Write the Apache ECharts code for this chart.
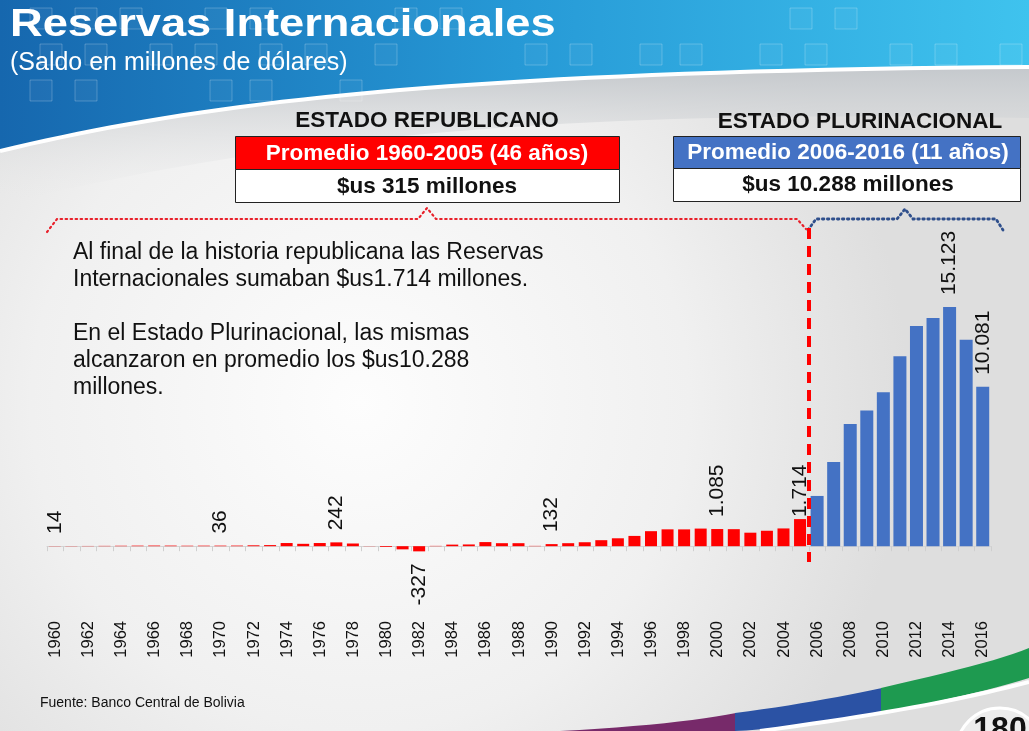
<!DOCTYPE html>
<html><head><meta charset="utf-8">
<script src="https://cdn.jsdelivr.net/npm/echarts@6/dist/echarts.min.js"></script>
<style>html,body{margin:0;padding:0;width:1029px;height:731px;overflow:hidden;background:#ececec}#c{width:1029px;height:731px}</style>
</head><body><div id="c"></div>
<script>
// ---- DATA ----
const years = ['1960','1961','1962','1963','1964','1965','1966','1967','1968','1969',
  '1970','1971','1972','1973','1974','1975','1976','1977','1978','1979',
  '1980','1981','1982','1983','1984','1985','1986','1987','1988','1989',
  '1990','1991','1992','1993','1994','1995','1996','1997','1998','1999',
  '2000','2001','2002','2003','2004','2005','2006','2007','2008','2009',
  '2010','2011','2012','2013','2014','2015','2016'];
// Estado Republicano 1960-2005
const republicano = [14,12,15,20,28,35,40,38,30,34,
  36,38,55,70,200,150,200,242,170,10,
  -50,-200,-327,20,100,110,260,190,190,20,
  132,190,250,380,500,650,950,1066,1063,1114,
  1085,1077,854,976,1123,1714];
// Estado Plurinacional 2006-2016
const plurinacional = [3178,5319,7722,8580,9730,12019,13927,14430,15123,13056,10081];
const labeledYears = ['1960','1970','1977','1982','1990','2000','2005','2014','2016'];

const RED = '#ff0000', BLUE = '#4472c4';
const FONT = "'Liberation Sans', Arial, sans-serif";
const fmt = v => String(v).replace(/\B(?=(\d{3})+(?!\d))/g, '.');

function item(year, v) {
  if (v === null) return null;
  const o = { value: v };
  if (labeledYears.includes(year)) {
    o.label = v < 0
      ? { show: true, position: 'bottom', align: 'right' }
      : { show: true, position: 'top', align: 'left' };
    if (year === '2005') o.label.distance = 2;
  }
  return o;
}
const repData = years.map((y, i) => i < republicano.length ? item(y, republicano[i]) : null);
const pluData = years.map((y, i) => i >= republicano.length ? item(y, plurinacional[i - republicano.length]) : null);

const barLabel = {
  show: false, rotate: 90, verticalAlign: 'middle', distance: 12,
  fontSize: 21, color: '#111', fontFamily: FONT,
  formatter: p => fmt(p.value)
};

// ---- DECORATION helpers ----
function bez(p0, p1, p2, p3, n) {
  const pts = [];
  for (let i = 0; i <= n; i++) {
    const t = i / n, u = 1 - t;
    pts.push([u*u*u*p0[0] + 3*u*u*t*p1[0] + 3*u*t*t*p2[0] + t*t*t*p3[0],
              u*u*u*p0[1] + 3*u*u*t*p1[1] + 3*u*t*t*p2[1] + t*t*t*p3[1]]);
  }
  return pts;
}
const edgeTop = bez([0,150],[200,102],[450,70],[1029,66], 40);
const edgeLow = bez([0,205],[300,130],[600,110],[1029,118], 40).reverse();

const squares = [];
[[8, [30,75,120,205,250,395,440,790,835,1070,1115,1240]], [44, [40,85,150,195,260,305,375,525,570,640,680,760,805,890,935,1000]], [80, [30,75,210,250,340]]]
  .forEach(([y, xs]) => xs.forEach(x => squares.push({ type: 'rect', z: -8, silent: true,
    shape: { x: x, y: y, width: 22, height: 21 },
    style: { fill: 'rgba(255,255,255,0.04)', stroke: 'rgba(255,255,255,0.22)', lineWidth: 1 } })));

const purple = [[560,731], ...bez([560,731],[640,727],[700,720],[736,713],12), [736,731]];
const blueBand = [...bez([735,713],[790,706],[840,697],[882,688],12), ...bez([882,712],[830,722],[780,729],[735,731],12)];
const greenBand = [...bez([881,688],[950,672],[1000,660],[1029,648],12), ...bez([1029,678],[990,690],[940,702],[881,712],12)];

const graphics = [
  { type: 'rect', z: -20, silent: true, shape: { x: 0, y: 0, width: 1029, height: 731 },
    style: { fill: { type: 'radial', x: 0.35, y: 0.55, r: 0.75,
      colorStops: [{ offset: 0, color: '#fdfdfd' }, { offset: 0.6, color: '#f0f0f0' }, { offset: 1, color: '#dedede' }] } } },
  { type: 'polygon', z: -12, silent: true, shape: { points: [...edgeTop, ...edgeLow] },
    style: { fill: { type: 'linear', x: 0, y: 0, x2: 0, y2: 1,
      colorStops: [{ offset: 0, color: '#c4c8cc' }, { offset: 1, color: 'rgba(235,235,235,0)' }] } } },
  { type: 'polygon', z: -10, silent: true, shape: { points: [[0,0],[1029,0], ...edgeTop.slice().reverse()] },
    style: { fill: { type: 'linear', x: 0, y: 0, x2: 1, y2: 0,
      colorStops: [{ offset: 0, color: '#1667ae' }, { offset: 0.5, color: '#2699d6' }, { offset: 1, color: '#3fc3ee' }] } } },
  ...squares,
  { type: 'polyline', z: -7, silent: true, shape: { points: edgeTop.map(p => [p[0], p[1] + 1]) },
    style: { fill: null, stroke: '#ffffff', lineWidth: 4 } },
  // bottom right swoosh
  { type: 'polygon', z: -6, silent: true, shape: { points: purple }, style: { fill: '#772a6a' } },
  { type: 'polygon', z: -6, silent: true, shape: { points: blueBand }, style: { fill: '#2b52a4' } },
  { type: 'polygon', z: -6, silent: true, shape: { points: greenBand }, style: { fill: '#1e9a50' } },
  { type: 'polyline', z: -6, silent: true, shape: { points: bez([760,731],[880,715],[960,700],[1029,682],20) }, style: { fill: null, stroke: '#ffffff', lineWidth: 4 } },
  { type: 'circle', z: -5, silent: true, shape: { cx: 1000, cy: 752, r: 44 }, style: { fill: '#ededed', stroke: '#ffffff', lineWidth: 3 } },
  { type: 'text', z: 5, silent: true, x: 1000, y: 714, style: { text: '180', fontSize: 32, fontWeight: 'bold', fill: '#111', fontFamily: FONT, align: 'center', verticalAlign: 'top' } },
  // titles
  { type: 'text', z: 5, x: 10, y: 6, scaleX: 1.16, style: { text: 'Reservas Internacionales', fontSize: 39, fontWeight: 'bold', fill: '#ffffff', fontFamily: FONT, verticalAlign: 'top' } },
  { type: 'text', z: 5, x: 10, y: 51, style: { text: '(Saldo en millones de dólares)', fontSize: 25, fill: '#ffffff', fontFamily: FONT, verticalAlign: 'top' } },
  // Boxes
  { type: 'text', z: 5, x: 427, y: 121, style: { text: 'ESTADO REPUBLICANO', fontSize: 22.5, fontWeight: 'bold', fill: '#111', fontFamily: FONT, align: 'center', verticalAlign: 'middle' } },
  { type: 'rect', z: 4, shape: { x: 235.5, y: 136.5, width: 384, height: 33 }, style: { fill: RED, stroke: '#222', lineWidth: 1 } },
  { type: 'rect', z: 4, shape: { x: 235.5, y: 169.5, width: 384, height: 33 }, style: { fill: '#ffffff', stroke: '#222', lineWidth: 1 } },
  { type: 'text', z: 5, x: 427, y: 154, style: { text: 'Promedio 1960-2005 (46 años)', fontSize: 22.5, fontWeight: 'bold', fill: '#ffffff', fontFamily: FONT, align: 'center', verticalAlign: 'middle' } },
  { type: 'text', z: 5, x: 427, y: 187, style: { text: '$us 315 millones', fontSize: 22.5, fontWeight: 'bold', fill: '#111', fontFamily: FONT, align: 'center', verticalAlign: 'middle' } },
  { type: 'text', z: 5, x: 860, y: 122, style: { text: 'ESTADO PLURINACIONAL', fontSize: 22.5, fontWeight: 'bold', fill: '#111', fontFamily: FONT, align: 'center', verticalAlign: 'middle' } },
  { type: 'rect', z: 4, shape: { x: 673.5, y: 136.5, width: 347, height: 32 }, style: { fill: BLUE, stroke: '#222', lineWidth: 1 } },
  { type: 'rect', z: 4, shape: { x: 673.5, y: 168.5, width: 347, height: 33 }, style: { fill: '#ffffff', stroke: '#222', lineWidth: 1 } },
  { type: 'text', z: 5, x: 848, y: 153, style: { text: 'Promedio 2006-2016 (11 años)', fontSize: 22.5, fontWeight: 'bold', fill: '#ffffff', fontFamily: FONT, align: 'center', verticalAlign: 'middle' } },
  { type: 'text', z: 5, x: 848, y: 185, style: { text: '$us 10.288 millones', fontSize: 22.5, fontWeight: 'bold', fill: '#111', fontFamily: FONT, align: 'center', verticalAlign: 'middle' } },
  // brackets
  { type: 'polyline', z: 4, shape: { points: [[47, 232], [57, 219], [418, 219], [427, 208], [436, 219], [797, 219], [806, 229]] },
    style: { fill: null, stroke: '#e8202a', lineWidth: 2.2, lineDash: [1.5, 3.5], lineCap: 'round' } },
  { type: 'polyline', z: 4, shape: { points: [[808, 230], [816, 219], [897, 219], [905, 209], [913, 219], [996, 219], [1003, 230]] },
    style: { fill: null, stroke: '#2f4f8c', lineWidth: 2.8, lineDash: [1.5, 3.5], lineCap: 'round' } },
  // paragraphs
  { type: 'text', z: 5, x: 73, y: 239, style: {
      text: 'Al final de la historia republicana las Reservas\nInternacionales sumaban $us1.714 millones.\n\nEn el Estado Plurinacional, las mismas\nalcanzaron en promedio los $us10.288\nmillones.',
      fontSize: 23, lineHeight: 27, fill: '#111', fontFamily: FONT, verticalAlign: 'top' } },
  { type: 'text', z: 5, x: 40, y: 696, style: { text: 'Fuente: Banco Central de Bolivia', fontSize: 14, fill: '#111', fontFamily: "'Liberation Sans Narrow', 'Liberation Sans', sans-serif", verticalAlign: 'top' } }
];

const chart = echarts.init(document.getElementById('c'), null, { renderer: 'canvas' });
chart.setOption({
  backgroundColor: '#ececec',
  animation: false,
  grid: { left: 47, right: 38, top: 230, height: 332 },
  xAxis: {
    type: 'category', data: years,
    axisLine: { onZero: true, lineStyle: { color: '#d4d4d4', width: 1 } },
    axisTick: { show: true, interval: 0, length: 5, lineStyle: { color: '#cfcfcf' } },
    axisLabel: { interval: 1, rotate: 90, margin: 59, fontSize: 16.5, color: '#111', fontFamily: FONT }
  },
  yAxis: { type: 'value', min: -1000, max: 20000, show: false, splitLine: { show: false } },
  series: [
    { type: 'bar', data: repData, barWidth: 12, barGap: '-100%', itemStyle: { color: RED }, label: barLabel, z: 3 },
    { type: 'bar', data: pluData, barWidth: 13, barGap: '-100%', itemStyle: { color: BLUE }, label: barLabel, z: 3 }
  ],
  graphic: graphics
});

// dashed separator between 2005 and 2006, positioned via the axis scale
const idx = years.indexOf('2005');
const xa = chart.convertToPixel({ xAxisIndex: 0 }, years[idx]);
const xb = chart.convertToPixel({ xAxisIndex: 0 }, years[idx + 1]);
const xm = Math.round((xa + xb) / 2);
chart.setOption({ graphic: [...graphics,
  { type: 'line', z: 6, shape: { x1: xm, y1: 228, x2: xm, y2: 562 },
    style: { stroke: RED, lineWidth: 4, lineDash: [11, 7] } }] });
</script>
</body></html>
